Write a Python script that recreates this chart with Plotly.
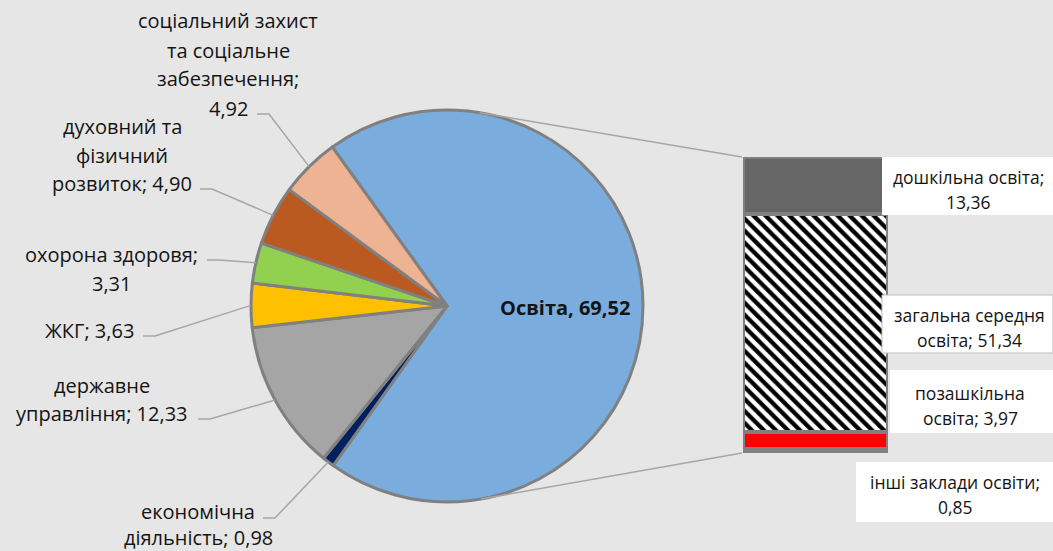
import math
import plotly.graph_objects as go

W, H = 1053, 551

# ---------------- data ----------------
pie_labels = ["Освіта", "економічна діяльність", "державне управління", "ЖКГ",
              "охорона здоровя", "духовний та фізичний розвиток",
              "соціальний захист та соціальне забезпечення"]
pie_values = [69.52, 0.98, 12.33, 3.63, 3.31, 4.90, 4.92]
pie_colors = ["#7AADDE", "#002060", "#A5A5A5", "#FFC000", "#92D050", "#BA5A21", "#EDB393"]

# bar of the "Освіта" slice, bottom -> top
bar_labels = ["інші заклади освіти", "позашкільна освіта",
              "загальна середня освіта", "дошкільна освіта"]
bar_values = [0.85, 3.97, 51.34, 13.36]
bar_colors = ["#808080", "#FF0000", "#FFFFFF", "#666666"]

def fmt(v):
    return f"{v:.2f}".replace(".", ",")

pie_label_lines = {
    "соціальний захист та соціальне забезпечення": ["соціальний захист", "та соціальне", "забезпечення;", "{v}"],
    "духовний та фізичний розвиток": ["духовний та", "фізичний", "розвиток; {v}"],
    "охорона здоровя": ["охорона здоровя;", "{v}"],
    "ЖКГ": ["ЖКГ; {v}"],
    "державне управління": ["державне", "управління; {v}"],
    "економічна діяльність": ["економічна", "діяльність; {v}"],
}
bar_label_lines = {
    "дошкільна освіта": ["дошкільна освіта;", "{v}"],
    "загальна середня освіта": ["загальна середня", "освіта; {v}"],
    "позашкільна освіта": ["позашкільна", "освіта; {v}"],
    "інші заклади освіти": ["інші заклади освіти;", "{v}"],
}

# ---------------- layout geometry (pixels) ----------------
CX, CY, R = 447, 306, 196
ROT = -35.8
BAR_X0, BAR_X1 = 743, 888
BAR_Y0, BAR_Y1 = 453, 157

pie_text_pos = {
    "соціальний захист та соціальне забезпечення": (228, 21, 29, (257, 114)),
    "духовний та фізичний розвиток": (122, 127, 28, (200, 189)),
    "охорона здоровя": (111, 255, 28, (207, 260)),
    "ЖКГ": (89, 330, 28, (143, 336)),
    "державне управління": (102, 385, 28, (198, 419)),
    "економічна діяльність": (198, 511, 26.5, (263, 518)),
}
bar_text_pos = {
    "дошкільна освіта": ((882, 157, 1053, 215), 968, 177, 25, False),
    "загальна середня освіта": ((882, 295, 1053, 353), 969, 315, 25, True),
    "позашкільна освіта": ((890, 370, 1053, 433), 970, 393, 25, False),
    "інші заклади освіти": ((856, 462, 1053, 522), 955, 482, 25, False),
}

FONT = "'Open Sans', 'Noto Sans', sans-serif"
TXT = "#141414"

def px(x):
    return x / W

def py(y):
    return 1 - y / H

fig = go.Figure()

fig.add_trace(go.Pie(
    labels=pie_labels, values=pie_values, sort=False, direction="clockwise",
    rotation=ROT, textinfo="none", hoverinfo="label+value",
    marker=dict(colors=pie_colors, line=dict(color="#808080", width=3)),
    domain=dict(x=[px(CX - R), px(CX + R)], y=[py(CY + R), py(CY - R)]),
    showlegend=False,
))

for lab, val, col in zip(bar_labels, bar_values, bar_colors):
    pattern = None
    if lab == "загальна середня освіта":
        pattern = dict(shape="\\", fgcolor="#000000", bgcolor="#FFFFFF",
                       size=8.5, solidity=0.5, fillmode="replace")
    fig.add_trace(go.Bar(
        x=["Освіта"], y=[val], name=lab, xaxis="x2", yaxis="y2",
        marker=dict(color=col, line=dict(color="#808080", width=4), pattern=pattern),
        showlegend=False, width=1,
    ))

total_edu = sum(bar_values)
total = sum(pie_values)

shapes = []
annotations = []

cum = 0.0
for lab, val in zip(pie_labels, pie_values):
    mid = ROT + (cum + val / 2) / total * 360
    cum += val
    if lab not in pie_text_pos:
        continue
    cx_t, y0, sp, (ax, ay) = pie_text_pos[lab]
    ex = CX + R * math.sin(math.radians(mid))
    ey = CY - R * math.cos(math.radians(mid))
    path = f"M{px(ax)},{py(ay)} L{px(ax + 12)},{py(ay)} L{px(ex)},{py(ey)}"
    shapes.append(dict(type="path", path=path, xref="paper", yref="paper",
                       line=dict(color="#A6A6A6", width=1.5)))
    for i, line in enumerate(pie_label_lines[lab]):
        annotations.append(dict(
            x=px(cx_t), y=py(y0 + i * sp), xref="paper", yref="paper",
            text=line.format(v=fmt(val)), showarrow=False,
            xanchor="center", yanchor="middle",
            font=dict(family=FONT, size=20, color=TXT)))

annotations.append(dict(
    x=px(565), y=py(307), xref="paper", yref="paper",
    text=f"<b>{pie_labels[0]}, {fmt(pie_values[0])}</b>", showarrow=False,
    xanchor="center", yanchor="middle",
    font=dict(family=FONT, size=20, color=TXT)))

def tangent(Px, Py, upper):
    dx, dy = Px - CX, Py - CY
    d = math.hypot(dx, dy)
    base = math.atan2(dy, dx)
    alpha = math.acos(R / d)
    pts = [(CX + R * math.cos(a), CY + R * math.sin(a)) for a in (base - alpha, base + alpha)]
    pts.sort(key=lambda p: p[1])
    return pts[0] if upper else pts[1]

for (bx, by, up) in [(BAR_X0 - 1, BAR_Y1, True), (BAR_X0 - 1, BAR_Y0, False)]:
    tx, ty = tangent(bx, by, up)
    shapes.append(dict(type="line", xref="paper", yref="paper",
                       x0=px(tx), y0=py(ty), x1=px(bx), y1=py(by),
                       line=dict(color="#A6A6A6", width=1.5)))

for lab, val in zip(bar_labels, bar_values):
    (x0, y0b, x1, y1b), cx_t, y0, sp, border = bar_text_pos[lab]
    shapes.append(dict(type="rect", xref="paper", yref="paper", layer="above",
                       x0=px(x0), x1=px(x1), y0=py(y1b), y1=py(y0b),
                       fillcolor="#FFFFFF",
                       line=dict(color="#BFBFBF" if border else "rgba(0,0,0,0)", width=1)))
    for i, line in enumerate(bar_label_lines[lab]):
        annotations.append(dict(
            x=px(cx_t), y=py(y0 + i * sp), xref="paper", yref="paper",
            text=line.format(v=fmt(val)), showarrow=False,
            xanchor="center", yanchor="middle",
            font=dict(family=FONT, size=17.5, color=TXT)))

fig.update_layout(
    width=W, height=H,
    margin=dict(l=0, r=0, t=0, b=0),
    paper_bgcolor="#E7E6E6", plot_bgcolor="rgba(0,0,0,0)",
    barmode="stack", bargap=0,
    xaxis2=dict(domain=[px(BAR_X0), px(BAR_X1)], anchor="y2", visible=False,
                range=[-0.5, 0.5]),
    yaxis2=dict(domain=[py(BAR_Y0), py(BAR_Y1)], anchor="x2", visible=False,
                range=[0, total_edu]),
    shapes=shapes, annotations=annotations,
    showlegend=False,
)

fig.write_html("out.html", config={"displayModeBar": False},
               post_script="document.body.style.margin='0';document.body.style.overflow='hidden';")
